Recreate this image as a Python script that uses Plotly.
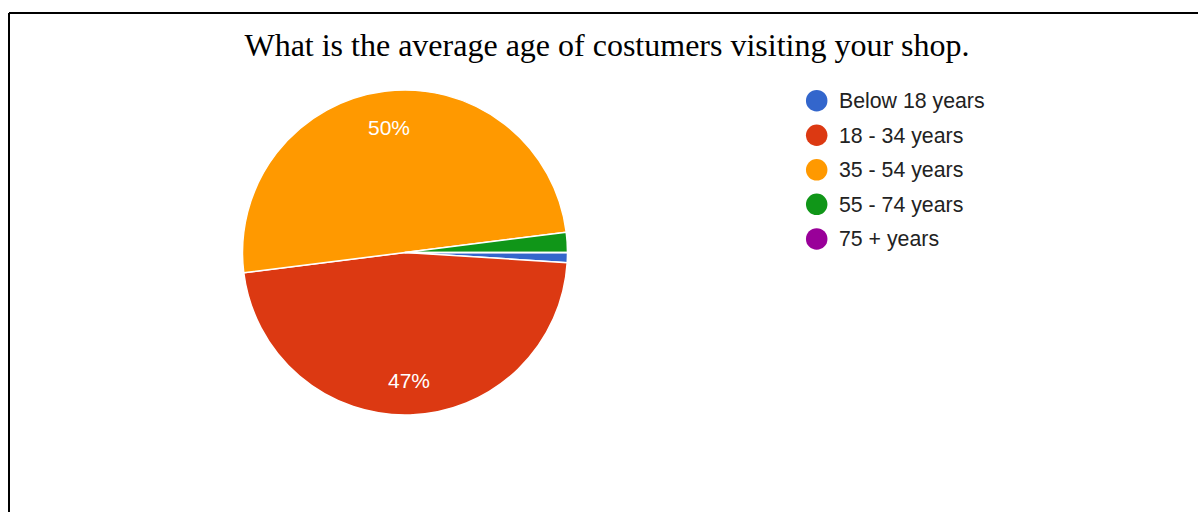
import math
import plotly.graph_objects as go

# Survey responses by age group
age_groups = ["Below 18 years", "18 - 34 years", "35 - 54 years", "55 - 74 years", "75 + years"]
responses = [1, 47, 50, 2, 0]
slice_colors = ["#3366cc", "#dc3912", "#ff9900", "#109618", "#990099"]
title_text = "What is the average age of costumers visiting your shop."

W, H = 1198, 512

# Pie geometry in pixels
cx, cy, r = 405, 252.5, 162.5
start_deg = 90  # first slice starts at 3 o'clock, going clockwise

def px_x(x):
    return x / W

def px_y(y):
    return 1 - y / H

fig = go.Figure()
fig.add_trace(go.Pie(
    labels=age_groups,
    values=responses,
    sort=False,
    direction="clockwise",
    rotation=start_deg,
    marker=dict(colors=slice_colors, line=dict(color="white", width=1.5)),
    textinfo="none",
    hoverinfo="label+percent",
    showlegend=False,
    domain=dict(x=[px_x(cx - r), px_x(cx + r)], y=[px_y(cy + r), px_y(cy - r)]),
))

annotations = []
shapes = []

# Percentage labels placed along each slice's mid-angle
total = sum(responses)
acc = 0.0
for v in responses:
    share = v / total
    mid = (acc + share / 2) * 360.0  # clockwise degrees from 3 o'clock
    acc += share
    if share >= 0.05:
        a = math.radians(mid)
        lx = cx + 0.78 * r * math.cos(a)
        ly = cy + 0.78 * r * math.sin(a)
        annotations.append(dict(
            x=px_x(lx), y=px_y(ly + 1), xref="paper", yref="paper",
            text=f"{round(share * 100)}%", showarrow=False,
            xanchor="center", yanchor="middle",
            font=dict(family="Arial, Liberation Sans", size=21, color="white"),
        ))

# Legend: circle markers with labels
leg_x, leg_y0, leg_dy, dot = 816.7, 100.7, 34.55, 21.5
for i, (lab, col) in enumerate(zip(age_groups, slice_colors)):
    yy = leg_y0 + i * leg_dy
    shapes.append(dict(
        type="circle", xref="paper", yref="paper",
        x0=px_x(leg_x - dot / 2), x1=px_x(leg_x + dot / 2),
        y0=px_y(yy + dot / 2), y1=px_y(yy - dot / 2),
        fillcolor=col, line=dict(width=0),
    ))
    annotations.append(dict(
        x=px_x(836.5), y=px_y(yy + 0.5), xref="paper", yref="paper",
        text=lab, showarrow=False, xanchor="left", yanchor="middle",
        font=dict(family="Arial, Liberation Sans", size=21.3, color="#222222"),
    ))

# Frame lines along the top and left edges
frame = dict(color="black", width=2)
shapes.append(dict(type="line", xref="paper", yref="paper",
                   x0=px_x(9), x1=1.0, y0=px_y(13), y1=px_y(13), line=frame))
shapes.append(dict(type="line", xref="paper", yref="paper",
                   x0=px_x(9), x1=px_x(9), y0=px_y(13), y1=0.0, line=frame))

fig.update_layout(
    width=W, height=H,
    margin=dict(l=0, r=0, t=0, b=0),
    paper_bgcolor="white",
    plot_bgcolor="white",
    title=dict(
        text=title_text, x=px_x(607), xanchor="center",
        y=px_y(45), yanchor="middle", yref="container",
        font=dict(family="Times New Roman, Liberation Serif, serif", size=32, color="black"),
    ),
    annotations=annotations,
    shapes=shapes,
)

fig.write_html("out.html")
